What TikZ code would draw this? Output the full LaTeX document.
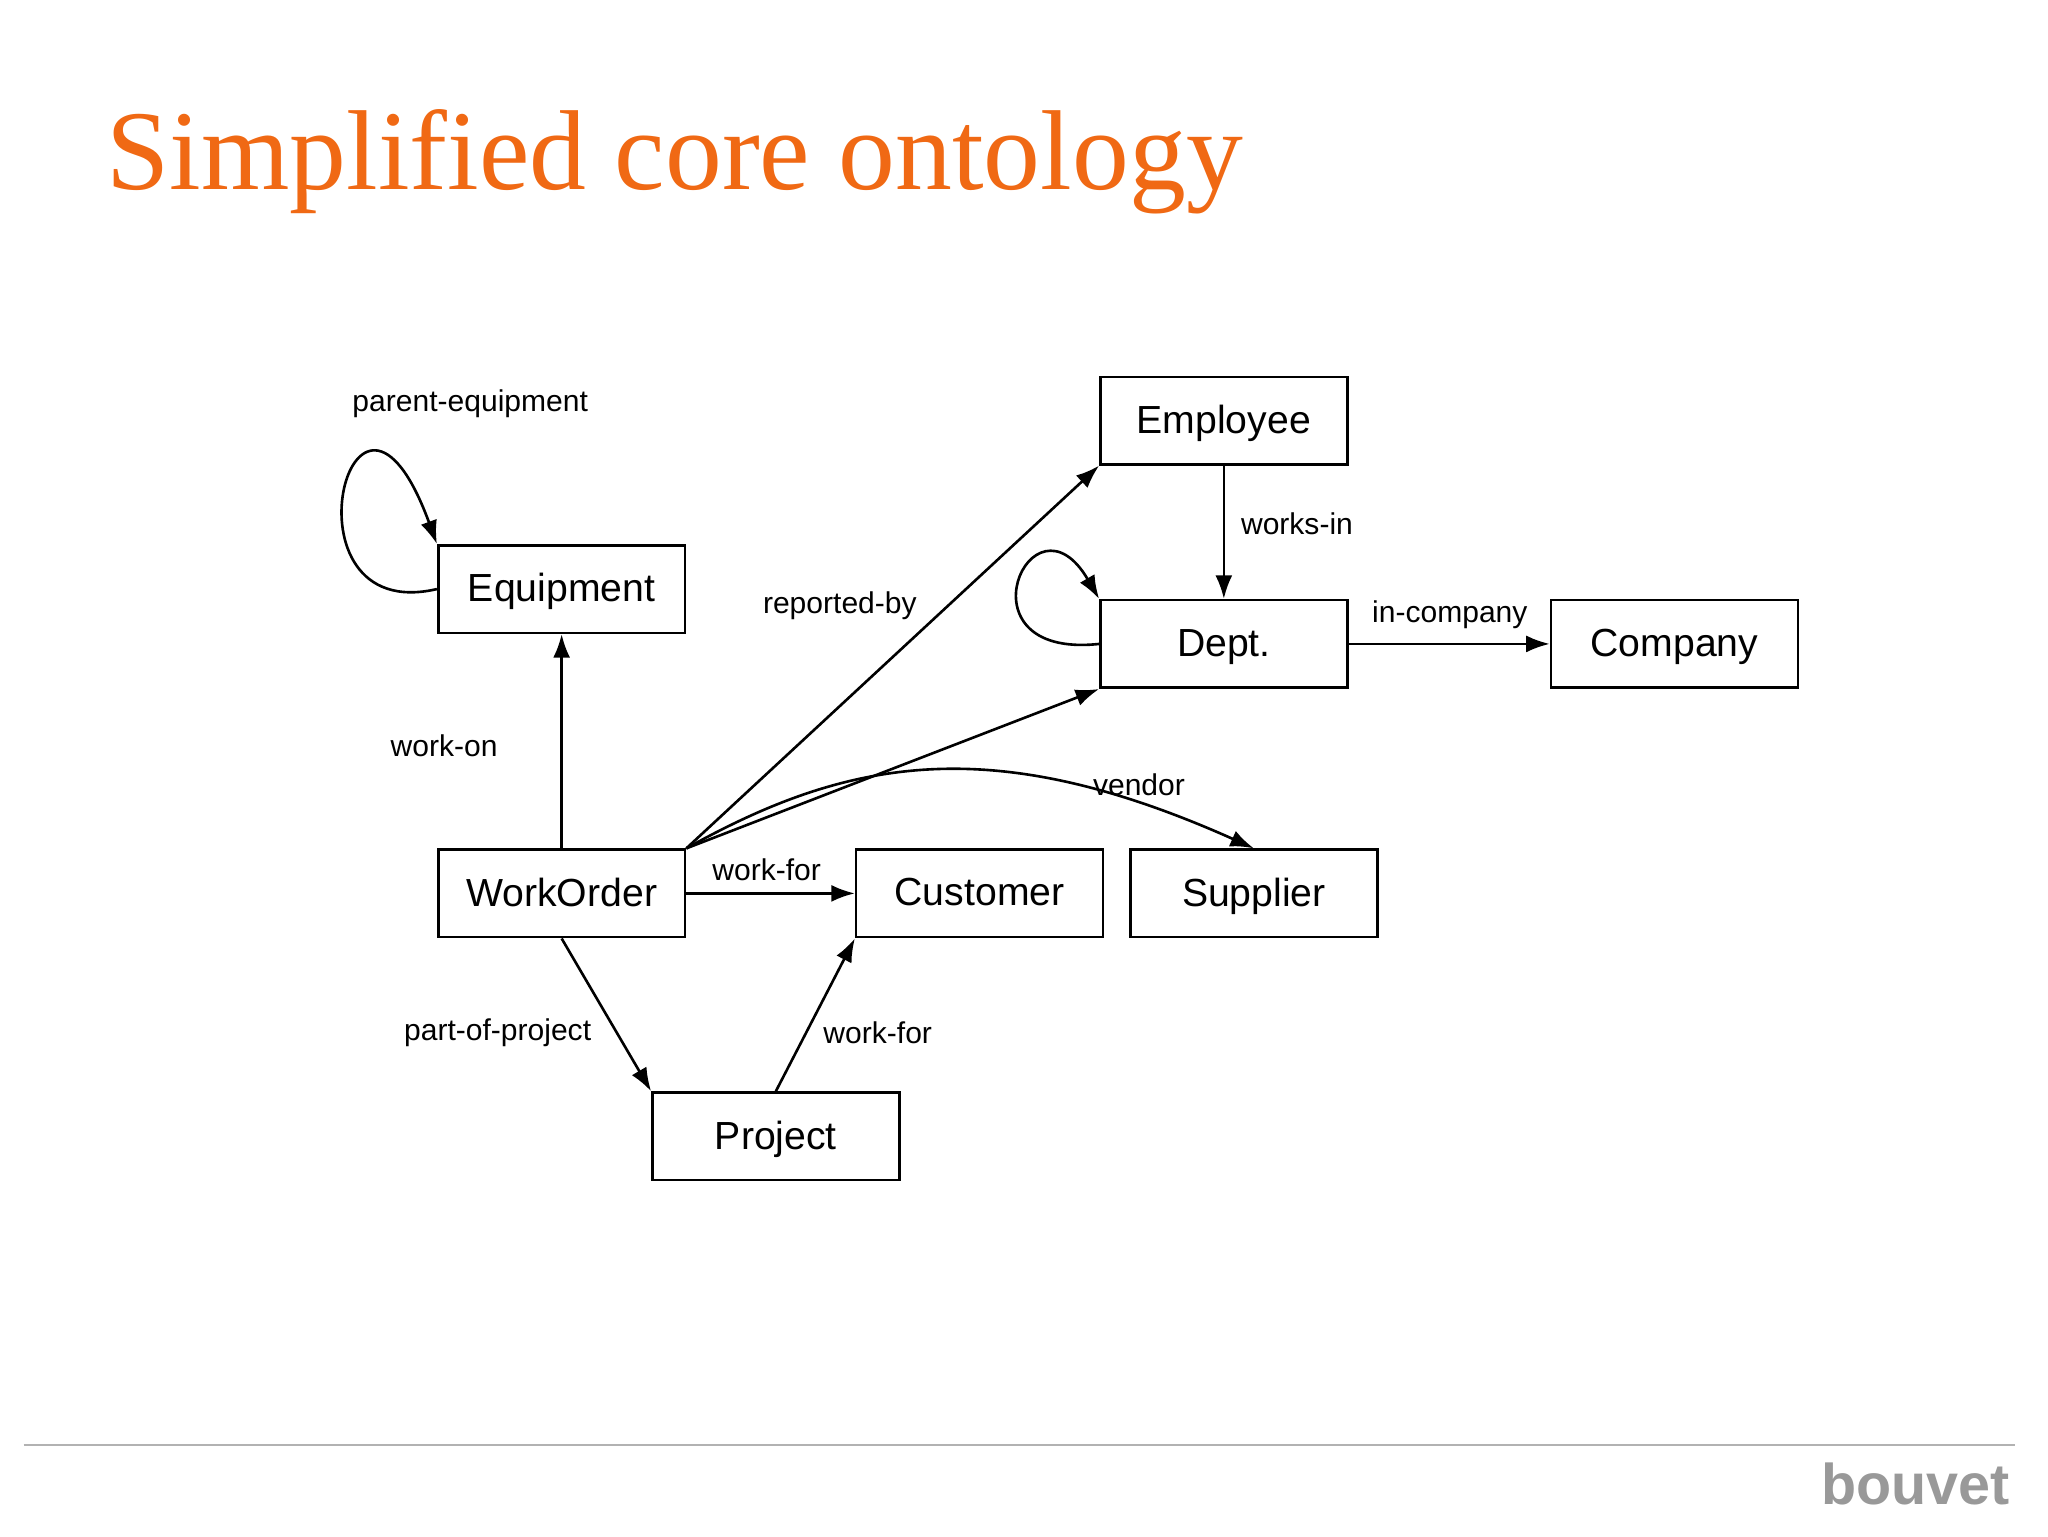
\documentclass[tikz,border=0pt]{standalone}
\usepackage{fontspec}
\setmainfont{Liberation Serif}
\newfontfamily\hel{Liberation Sans}
\usetikzlibrary{arrows.meta}
\definecolor{titleor}{RGB}{240,105,20}
\tikzset{
 box/.style={draw,line width=2pt,minimum width=189pt,minimum height=67pt,inner sep=0pt,font=\hel\fontsize{30}{34}\selectfont,text depth=2pt},
 lab/.style={font=\hel\fontsize{23}{26}\selectfont},
 con/.style={line width=2pt,-{Latex[length=18pt,width=13pt]}}
}
\begin{document}
\begin{tikzpicture}[x=1pt,y=-1pt]
\useasboundingbox (0,0) rectangle (1568,1176);
\node[anchor=west,text=titleor,font=\fontsize{87}{92}\selectfont] (title) at (78,124) {Simplified core ontology};
\node[box] (emp) at (937,322) {Employee};
\node[box] (equ) at (430,451) {Equipment};
\node[box] (dep) at (937,493) {Dept.};
\node[box] (com) at (1282,493) {Company};
\node[box] (wo) at (430,684) {WorkOrder};
\node[box] (cus) at (750,684) {Customer};
\node[box] (sup) at (960,684) {Supplier};
\node[box] (pro) at (594,870) {Project};
\draw[con] (wo.north) -- (equ.south);
\draw[con] (equ.west) .. controls (210,480) and (270,240) .. (equ.north west);
\draw[con] (wo.north east) -- (emp.south west);
\draw[con] (wo.north east) -- (dep.south west);
\draw[con] (wo.north east) .. controls (650,580) and (760,560) .. (sup.north);
\draw[con] (wo.east) -- (cus.west);
\draw[con] (wo.south) -- (pro.north west);
\draw[con] (pro.north) -- (cus.south west);
\draw[con] (emp.south) -- (dep.north);
\draw[con] (dep.west) .. controls (730,505) and (790,370) .. (dep.north west);
\draw[con] (dep.east) -- (com.west);
\node[lab] (l1) at (360,309) {parent-equipment};
\node[lab] (l2) at (340,571) {work-on};
\node[lab] (l3) at (643,464) {reported-by};
\node[lab] (l4) at (872,601) {vendor};
\node[lab] (l5) at (587,666) {work-for};
\node[lab] (l6) at (381,791) {part-of-project};
\node[lab] (l7) at (672,791) {work-for};
\node[lab] (l8) at (993,401) {works-in};
\node[lab] (l9) at (1110,471) {in-company};
\coordinate (fa) at (18,1106);
\coordinate (fb) at (1543,1106);
\draw[gray!60,line width=1.5pt] (fa) -- (fb);
\node[anchor=east,text=gray!80,font=\hel\bfseries\fontsize{44}{48}\selectfont] (logo) at (1542,1136) {bouvet};
\end{tikzpicture}
\end{document}
